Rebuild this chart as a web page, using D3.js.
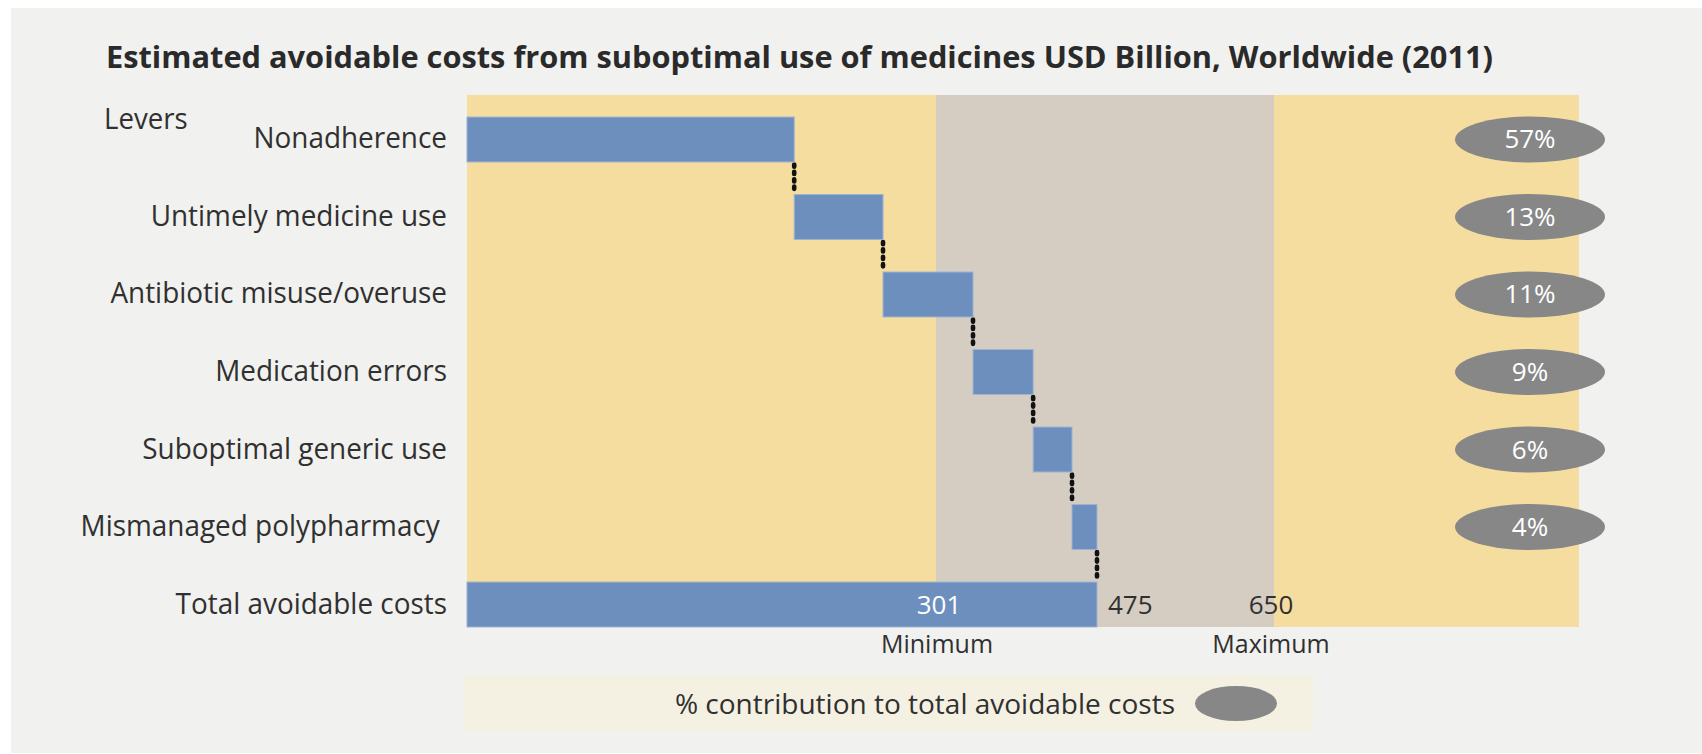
<!DOCTYPE html>
<html>
<head>
<meta charset="utf-8">
<script src="https://cdn.jsdelivr.net/npm/d3@7/dist/d3.min.js"></script>
<style>
  html, body { margin: 0; padding: 0; background: #ffffff; }
  svg { display: block; }
  text { font-family: "Open Sans", "Noto Sans", sans-serif; }
</style>
</head>
<body>
<svg id="chart" width="1702" height="754"></svg>
<script>
// ---------------- data ----------------
const titleText = "Estimated avoidable costs from suboptimal use of medicines USD Billion, Worldwide (2011)";
const leverHeader = "Levers";
const categories = [
  "Nonadherence",
  "Untimely medicine use",
  "Antibiotic misuse/overuse",
  "Medication errors",
  "Suboptimal generic use",
  "Mismanaged polypharmacy "
];
// lever step sizes as drawn (USD billion)
const leverValues = [210, 57, 74, 65, 42, 27];
// % contribution to total avoidable costs
const shares = [57, 13, 11, 9, 6, 4];
const totalLabel = "Total avoidable costs";
const rangeValues = [301, 475, 650];          // minimum, total, maximum
const rangeNames = ["Minimum", "Maximum"];
const axisMax = 955;
const legendText = "% contribution to total avoidable costs";

// ---------------- layout ----------------
const W = 1702, H = 754;
const svg = d3.select("#chart");

const C = {
  panel: "#f1f1ef",
  plot: "#f5dda0",
  band: "#d5cdc1",
  bar: "#6d8fbd",
  barStroke: "#9db3d3",
  pill: "#878787",
  legend: "#f4f0e2",
  text: "#303030",
  title: "#2a2a2a"
};

function condense(sel, k) {
  sel.each(function () {
    const w = this.getComputedTextLength();
    this.setAttribute("textLength", w * k);
    this.setAttribute("lengthAdjust", "spacingAndGlyphs");
  });
}

// background panel
svg.append("rect").attr("x", 11).attr("y", 8).attr("width", W - 11).attr("height", 745).attr("fill", C.panel);

// title
const title = svg.append("text")
  .attr("x", 106).attr("y", 68)
  .attr("font-size", 30).attr("font-weight", 700)
  .attr("fill", C.title)
  .text(titleText);
title.attr("textLength", 1387).attr("lengthAdjust", "spacingAndGlyphs");

// scales
const x = d3.scaleLinear()
  .domain([0, rangeValues[0], rangeValues[1], rangeValues[2], axisMax])
  .range([467, 936, 1097, 1274, 1579]);

const rows = categories.concat([totalLabel]);
const y = d3.scaleBand().domain(rows).range([117, 627]).paddingInner(0.42).paddingOuter(0);
const bw = y.bandwidth();
const plotTop = y(rows[0]) - 22;
const plotBottom = y(totalLabel) + bw;

// plot background
svg.append("rect")
  .attr("x", x(0)).attr("y", plotTop)
  .attr("width", x(axisMax) - x(0)).attr("height", plotBottom - plotTop)
  .attr("fill", C.plot);
// min-max band
svg.append("rect")
  .attr("x", x(rangeValues[0])).attr("y", plotTop)
  .attr("width", x(rangeValues[2]) - x(rangeValues[0])).attr("height", plotBottom - plotTop)
  .attr("fill", C.band);

// waterfall data
let cum = 0;
const steps = categories.map((c, i) => {
  const s = { cat: c, start: cum, end: cum + leverValues[i], share: shares[i] };
  cum += leverValues[i];
  return s;
});
const total = cum;

// connectors
svg.append("g").selectAll("line").data(steps).join("line")
  .attr("x1", d => x(d.end)).attr("x2", d => x(d.end))
  .attr("y1", d => y(d.cat) + bw + 2.5)
  .attr("y2", (d, i) => y(rows[i + 1]) - 1.5)
  .attr("stroke", "#111").attr("stroke-width", 4.6)
  .attr("stroke-linecap", "round")
  .attr("stroke-dasharray", "2.2,5.2");

// lever bars
svg.append("g").selectAll("rect").data(steps).join("rect")
  .attr("x", d => x(d.start)).attr("y", d => y(d.cat))
  .attr("width", d => x(d.end) - x(d.start)).attr("height", bw)
  .attr("fill", C.bar).attr("stroke", C.barStroke).attr("stroke-width", 1);

// total bar
svg.append("rect")
  .attr("x", x(0)).attr("y", y(totalLabel))
  .attr("width", x(total) - x(0)).attr("height", bw)
  .attr("fill", C.bar).attr("stroke", C.barStroke).attr("stroke-width", 1);

// category labels
const labels = svg.append("g").selectAll("text").data(rows).join("text")
  .attr("x", x(0) - 20)
  .attr("y", d => y(d) + bw / 2 + 9)
  .attr("text-anchor", "end")
  .attr("font-size", 30)
  .attr("fill", C.text)
  .style("white-space", "pre")
  .text(d => d);
condense(labels, 0.93);

const lev = svg.append("text").attr("x", 104).attr("y", 129)
  .attr("font-size", 30).attr("fill", C.text).text(leverHeader);
condense(lev, 0.92);

// share pills
const pillCx = x(axisMax) - 49;
const pills = svg.append("g").selectAll("g").data(steps).join("g")
  .attr("transform", d => `translate(${pillCx},${y(d.cat) + bw / 2})`);
pills.append("ellipse").attr("rx", 75).attr("ry", 23).attr("fill", C.pill);
pills.append("text").attr("y", 9).attr("text-anchor", "middle")
  .attr("font-size", 26).attr("fill", "#ffffff")
  .text(d => d.share + "%");

// range value labels on the total row
const ty = y(totalLabel) + bw / 2 + 9;
svg.append("text").attr("x", x(rangeValues[0]) + 3).attr("y", ty)
  .attr("text-anchor", "middle").attr("font-size", 26).attr("fill", "#ffffff")
  .text(rangeValues[0]);
svg.append("text").attr("x", x(rangeValues[1]) + 11).attr("y", ty)
  .attr("text-anchor", "start").attr("font-size", 26).attr("fill", C.text)
  .text(rangeValues[1]);
svg.append("text").attr("x", x(rangeValues[2]) - 3).attr("y", ty)
  .attr("text-anchor", "middle").attr("font-size", 26).attr("fill", C.text)
  .text(rangeValues[2]);

// Minimum / Maximum
svg.append("g").selectAll("text").data([rangeValues[0], rangeValues[2]]).join("text")
  .attr("x", (d, i) => x(d) + (i === 0 ? 1 : -3))
  .attr("y", plotBottom + 26)
  .attr("text-anchor", "middle").attr("font-size", 25).attr("fill", C.text)
  .text((d, i) => rangeNames[i]);

// legend
svg.append("rect").attr("x", 464).attr("y", 675).attr("width", 849).attr("height", 57).attr("fill", C.legend);
svg.append("text").attr("x", 1175).attr("y", 714)
  .attr("text-anchor", "end").attr("font-size", 28).attr("fill", C.text)
  .text(legendText);
svg.append("ellipse").attr("cx", 1236).attr("cy", 703.5).attr("rx", 41).attr("ry", 17.5).attr("fill", C.pill);
</script>
</body>
</html>
